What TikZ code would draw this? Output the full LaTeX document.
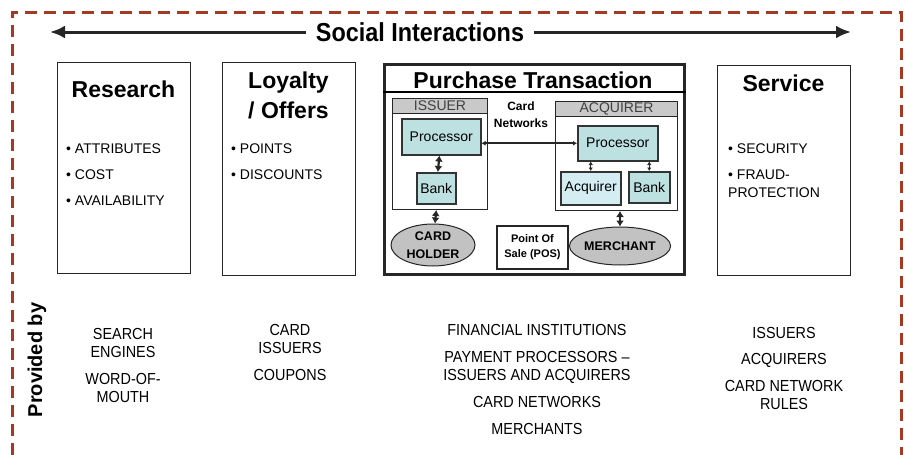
\documentclass[tikz,border=0pt]{standalone}
\usepackage{fontspec}
\setmainfont{Liberation Sans}
\newfontfamily\narrowfont[FakeStretch=0.9,Ligatures=TeX]{Liberation Sans}
\usepackage{xcolor}
\usepackage{tikz}
\usetikzlibrary{shapes,arrows.meta,calc,positioning}
\definecolor{borderred}{HTML}{A33A24}
\definecolor{procfill}{HTML}{BDE0E0}
\definecolor{acqfill}{HTML}{D3EDF3}
\definecolor{headgray}{HTML}{C9C9C9}
\definecolor{ovalgray}{HTML}{C2C2C2}
\tikzset{
  node distance=1.2cm,
  panel/.style={draw=black!85, line width=1.2pt, anchor=north west,
                minimum width=133pt, minimum height=211pt, inner sep=0pt},
  paneltitle/.style={font=\bfseries\fontsize{23}{30}\selectfont, align=center, inner sep=0pt},
  bullets/.style={font=\fontsize{14}{18}\selectfont, align=left, anchor=north west, inner sep=0pt},
  provider/.style={font=\narrowfont\fontsize{16}{18}\selectfont, align=center, anchor=north, inner sep=0pt},
  unit/.style={draw=black!85, line width=1pt, anchor=north west, inner sep=0pt},
  unithead/.style={unit, fill=headgray, minimum height=15pt, text=black!75,
                   font=\fontsize{14}{14}\selectfont},
  procbox/.style={draw=black!80, line width=1.5pt, fill=procfill, anchor=north west,
                  inner sep=0pt, font=\fontsize{14}{16}\selectfont},
  party/.style={ellipse, draw=black!85, line width=1pt, fill=ovalgray, inner sep=0pt,
                font=\bfseries\fontsize{12.5}{18}\selectfont, align=center}
}

\begin{document}
\begin{tikzpicture}[x=1pt,y=-1pt]
          \useasboundingbox (0,0) rectangle (905,455);
          \draw[borderred, line width=3pt, dash pattern=on 12pt off 7pt]
               (12,455) -- (12,12) -- (901,12) -- (901,455);

          \begin{scope}
              % social interactions
              \node[font=\narrowfont\bfseries\fontsize{26}{30}\selectfont, inner xsep=10pt, inner ysep=0pt]
                    (social) at (420,32) {Social Interactions};
              \coordinate (si-west) at (50,32);
              \coordinate (si-east) at (851,32);

              % panels
              \node[panel] (research) at (57,62) {};
              \node[paneltitle] (research-t) at (123.5,89) {Research};
              \node[bullets] (research-b) at (66,144)
                    {\textbullet\ ATTRIBUTES\\[8pt]\textbullet\ COST\\[8pt]\textbullet\ AVAILABILITY};

              \node[panel, minimum height=213pt] (loyalty) at (222,62) {};
              \node[paneltitle] (loyalty-t) at (288.5,95) {Loyalty\\/ Offers};
              \node[bullets] (loyalty-b) at (231,144)
                    {\textbullet\ POINTS\\[8pt]\textbullet\ DISCOUNTS};

              \node[panel, minimum height=210pt] (service) at (717,65) {};
              \node[paneltitle] (service-t) at (783.5,83) {Service};
              \node[bullets] (service-b) at (728,144)
                    {\textbullet\ SECURITY\\[8pt]\textbullet\ FRAUD-\\PROTECTION};

              \node[panel, line width=2.5pt, minimum width=300pt, minimum height=210pt] (purchase) at (383,63) {};
              \node[paneltitle] (purchase-t) at (533,80) {Purchase Transaction};

              % issuer side
              \node[unit, minimum width=95pt, minimum height=111pt] (issuer) at (392,98) {};
              \node[unithead, minimum width=95pt] (issuer-h) at (392,98) {ISSUER};
              \node[procbox, minimum width=79pt, minimum height=36pt] (iproc) at (401,118) {Processor};
              \node[procbox, minimum width=39pt, minimum height=31pt] (ibank) at (416,172) {Bank};
              \node[party, minimum width=84pt, minimum height=42pt] (holder) at (433,245) {CARD\\HOLDER};

              \node[font=\bfseries\fontsize{12}{17}\selectfont, align=center, inner sep=0pt]
                    (cardnet) at (521,115) {Card\\Networks};
              \node[draw=black!85, line width=1.2pt, minimum width=71pt, minimum height=43pt, inner sep=0pt,
                    font=\bfseries\fontsize{11}{15}\selectfont, align=center]
                    (pos) at (532.5,247.5) {Point Of\\Sale (POS)};

              % acquirer side
              \node[unit, minimum width=122pt, minimum height=109pt] (acqbox) at (555,101) {};
              \node[unithead, minimum width=122pt] (acqbox-h) at (555,101) {ACQUIRER};
              \node[procbox, minimum width=80pt, minimum height=35pt] (aproc) at (577,125) {Processor};
              \node[procbox, fill=acqfill, minimum width=60pt, minimum height=33pt] (acq) at (560,171) {Acquirer};
              \node[procbox, minimum width=41pt, minimum height=31pt] (abank) at (628,171) {Bank};
              \node[party, minimum width=92pt, minimum height=38pt] (merchant) at (620,246) {MERCHANT};

              % provided by
              \node[rotate=90, font=\bfseries\fontsize{20}{24}\selectfont, inner sep=0pt]
                    (provided) at (37,360) {Provided by};
              \node[provider] (prov-research) at (123,328) {SEARCH\\ENGINES\\[9pt]WORD-OF-\\MOUTH};
              \node[provider] (prov-loyalty) at (290,324) {CARD\\ISSUERS\\[9pt]COUPONS};
              \node[provider] (prov-purchase) at (537,324)
                    {FINANCIAL INSTITUTIONS\\[9pt]PAYMENT PROCESSORS –\\ISSUERS AND ACQUIRERS\\[9pt]CARD NETWORKS\\[9pt]MERCHANTS};
              \node[provider] (prov-service) at (784,327) {ISSUERS\\[8pt]ACQUIRERS\\[9pt]CARD NETWORK\\RULES};
          \end{scope}

          \begin{scope}[>={Latex[length=6pt,width=8pt]},
                        every edge/.style={draw=black!85}]
              \path [->, line width=3pt, >={Latex[length=15pt,width=13pt]}] (social) edge (si-west);
              \path [->, line width=3pt, >={Latex[length=15pt,width=13pt]}] (social) edge (si-east);

              \path [<->, line width=2.2pt] (iproc) edge (ibank);
              \path [<->, line width=2.2pt] (ibank.south |- issuer.south) edge (holder);
              \path [<->, line width=2pt, >={Latex[length=4pt,width=5pt]}] (iproc.east |- aproc.west) edge (aproc.west);
              \path [<->, line width=1.2pt, >={Latex[length=3.5pt,width=4.5pt]}] (aproc.south -| acq.north) edge (acq.north);
              \path [<->, line width=1.2pt, >={Latex[length=3.5pt,width=4.5pt]}] (aproc.south -| abank.north) edge (abank.north);
              \path [<->, line width=2.2pt] (merchant.north |- acqbox.south) edge (merchant.north);
          \end{scope}

          \draw[line width=1.5pt] ($(purchase.north west)+(0,29)$) -- ($(purchase.north east)+(0,29)$);
\end{tikzpicture}
\end{document}
